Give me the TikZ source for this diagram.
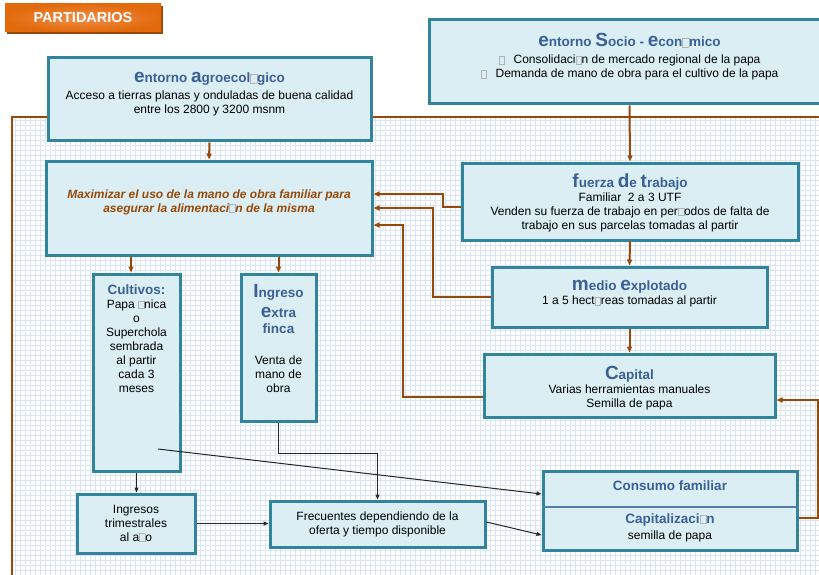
\documentclass[tikz,border=0pt]{standalone}
\usepackage{fontspec}
\setmainfont{Liberation Sans}
\usepackage{tikz}
\usetikzlibrary{arrows.meta,positioning,shadows}

\definecolor{borde}{RGB}{49,132,155}
\definecolor{relleno}{RGB}{218,238,243}
\definecolor{azul}{RGB}{58,96,150}
\definecolor{marron}{RGB}{152,72,7}
\definecolor{naranja}{RGB}{226,106,12}
\definecolor{naranjaclaro}{RGB}{241,142,72}
\definecolor{rejilla}{RGB}{218,229,243}
\definecolor{divisor}{RGB}{84,125,170}

\newcommand\grande[1]{{\fontsize{19}{19}\selectfont #1}}
\newcommand\tit[1]{{\fontsize{13.5}{14}\selectfont\bfseries\color{azul}#1}}
\newcommand\nog{{\color{gray!60}\fboxsep=0pt\fboxrule=0.5pt\fbox{\rule{0pt}{0.62em}\hspace{0.42em}}}}

\begin{document}
\begin{tikzpicture}[x=1pt,y=-1pt,font=\fontsize{12}{14}\selectfont,
  caja/.style={draw=borde,fill=relleno,line width=3pt},
  texto/.style={align=center,inner sep=0pt},
  partido/.style={inner color=naranjaclaro,outer color=naranja,text=white,
    minimum width=156pt,minimum height=28pt,font=\fontsize{14.5}{14}\selectfont\bfseries,
    drop shadow={shadow xshift=2pt,shadow yshift=-2pt,fill=marron,opacity=1}},
  flecha/.style={draw=marron,line width=2pt,-{Triangle[length=6pt,width=5pt]}},
  linea/.style={draw=black!85,line width=1pt,-{Triangle[length=5pt,width=4pt]}}]

\useasboundingbox (0,0) rectangle (819,575);

\begin{scope}
\clip (12,117) rectangle (819,575);
\draw[rejilla,line width=0.7pt,step=5pt] (10,115) grid (820,580);
\end{scope}
\draw[marron,line width=2pt] (12,580) -- (12,117) -- (825,117);

\node[partido] (part) at (83,18) {PARTIDARIOS};

\node[caja,minimum width=323,minimum height=83] (agro) at (209.5,99.5) {};
\node[caja,minimum width=401,minimum height=84] (socio) at (629.5,62) {};
\node[caja,minimum width=326,minimum height=94] (maxi) at (209,208) {};
\node[caja,minimum width=336,minimum height=77] (fuerza) at (630,201.5) {};
\node[caja,minimum width=275,minimum height=60] (medio) at (629.5,297) {};
\node[caja,minimum width=291,minimum height=63] (capital) at (629.5,385.5) {};
\node[caja,minimum width=87,minimum height=197] (cult) at (136.5,372.5) {};
\node[caja,minimum width=75,minimum height=147] (ingreso) at (278.5,347.5) {};
\node[caja,minimum width=118,minimum height=59,align=center] (trim) at (136,523.5) {Ingresos\\trimestrales\\al a\nog o};
\node[caja,minimum width=215,minimum height=46,align=center] (frec) at (377.5,524) {Frecuentes dependiendo de la\\oferta y tiempo disponible};
\node[caja,minimum width=254,minimum height=79] (consumo) at (670,510.5) {};
\draw[divisor,line width=1.5pt] (consumo.west |- 0,507) -- (consumo.east |- 0,507);

\node[texto,below=16pt of agro.north] (agrot) {\tit{\grande{e}ntorno \grande{a}groecol\nog gico}\\[3pt]
  Acceso a tierras planas y onduladas de buena calidad\\entre los 2800 y 3200 msnm};
\node[texto,below=15pt of socio.north] (sociot) {\tit{\grande{e}ntorno \grande{S}ocio - \grande{e}con\nog mico}\\[3pt]
  \nog\hspace{9pt}Consolidaci\nog n de mercado regional de la papa\\
  \nog\hspace{9pt}Demanda de mano de obra para el cultivo de la papa};
\node[texto,text=marron,font=\fontsize{12}{14}\selectfont\bfseries\itshape] (maxit) at ([yshift=6pt]maxi.center)
  {Maximizar el uso de la mano de obra familiar para\\asegurar la alimentaci\nog n de la misma};
\node[texto,below=12pt of fuerza.north] (fuerzat) {\tit{\grande{f}uerza \grande{d}e \grande{t}rabajo}\\
  Familiar\ \ 2 a 3 UTF\\Venden su fuerza de trabajo en per\nog odos de falta de\\
  trabajo en sus parcelas tomadas al partir};
\node[texto,below=15pt of medio.north] (mediot) {\tit{\grande{m}edio \grande{e}xplotado}\\
  1 a 5 hect\nog reas tomadas al partir};
\node[texto,below=14pt of capital.north] (capitalt) {\tit{\grande{C}apital}\\
  Varias herramientas manuales\\Semilla de papa};
\node[texto,below=12pt of cult.north] (cultt) {\tit{Cultivos:}\\Papa \nog nica\\o\\Superchola\\
  sembrada\\al partir\\cada 3\\meses};
\node[texto,below=12pt of ingreso.north] (ingresot) {\tit{\grande{I}ngreso}\\[6pt]\tit{\grande{e}xtra}\\[2pt]
  \tit{finca}\\[17pt]Venta de\\mano de\\obra};
\node[texto,below=11pt of consumo.north] (consumot) {\tit{Consumo familiar}};
\node[texto,below=44pt of consumo.north] (capitzt) {\tit{Capitalizaci\nog n}\\[2pt]semilla de papa};

\draw[flecha] (agro.south) -- (maxi.north);
\draw[flecha] (socio.south) -- (fuerza.north);
\draw[flecha] (fuerza.south) -- (medio.north);
\draw[flecha] (medio.south) -- (capital.north);
\draw[flecha] (maxi.south -| 131,0) -- (cult.north -| 131,0);
\draw[flecha] (maxi.south -| ingreso.north) -- (ingreso.north);
\draw[flecha] (fuerza.west |- 0,207) -- (443,207) -- (443,194) -- (maxi.east |- 0,194);
\draw[flecha] (medio.west |- 0,297) -- (433,297) -- (433,208) -- (maxi.east |- 0,208);
\draw[flecha] (capital.west |- 0,397) -- (403,397) -- (403,225) -- (maxi.east |- 0,225);
\draw[flecha] (consumo.east |- 0,518) -- (818,518) -- (818,400) -- (capital.east |- 0,400);

\coordinate (c1) at (158,449);
\draw[linea] (c1) -- (consumo.west |- 0,494);
\draw[linea] (ingreso.south) -- ++(0,31) -| (frec.north);
\draw[linea] (cult.south) -- (trim.north -| cult.south);
\draw[linea] (trim.east) -- (frec.west |- trim.east);
\draw[linea] (frec.east |- 0,522) -- (consumo.west |- 0,535);

\end{tikzpicture}
\end{document}
